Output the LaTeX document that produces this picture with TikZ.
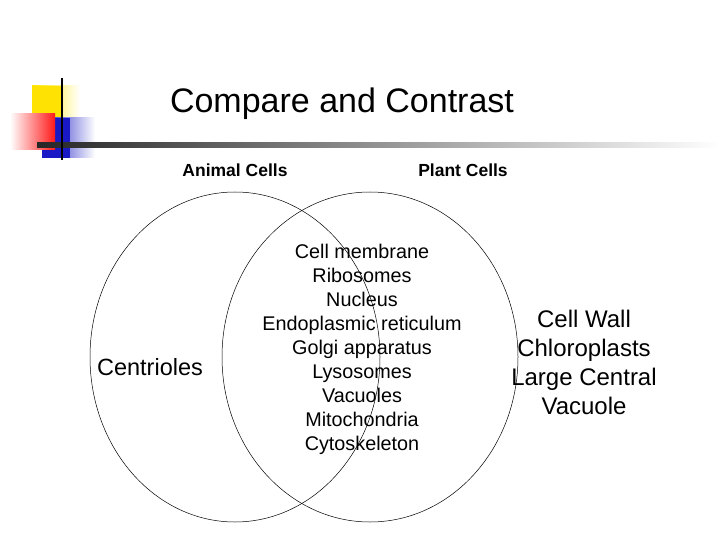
\documentclass[tikz,border=0pt]{standalone}
\usepackage{fontspec}
\setmainfont{Liberation Sans}
\begin{document}
\begin{tikzpicture}[x=1pt,y=-1pt,
  lbl/.style={font=\fontsize{17.5}{20}\selectfont\bfseries},
  mid/.style={align=center,font=\fontsize{19.8}{24}\selectfont},
  rt/.style={align=center,font=\fontsize{24}{29}\selectfont}]
\useasboundingbox (0,0) rectangle (720,540);
\fill[white] (0,0) rectangle (720,540);
% decoration
\shade[left color=yellow!80!orange,right color=white] (32,86) rectangle (80,132);
\fill[yellow!85!orange] (32,86) rectangle (62,132);
\shade[left color=blue!75!black!90,right color=white] (42,118) rectangle (95,158);
\fill[blue!75!black!90] (42,118) rectangle (70,158);
\shade[left color=white,right color=red!90] (10,114) rectangle (55,150);
\shade[left color=black!85,right color=white] (37,143) rectangle (720,148);
\draw[line width=1.5pt] (62,78) -- (62,160);
\node[font=\fontsize{34}{40}\selectfont] (title) at (342,104) {Compare and Contrast};
\node[lbl] (animal) at (235,170) {Animal Cells};
\node[lbl] (plant) at (463,170) {Plant Cells};
\draw[line width=0.5pt] (235,357) ellipse [x radius=145,y radius=165];
\draw[line width=0.5pt] (370,357) ellipse [x radius=148,y radius=165];
\node[font=\fontsize{23.5}{28}\selectfont] (cen) at (150,367) {Centrioles};
\node[mid] (common) at (362,349) {Cell membrane\\Ribosomes\\Nucleus\\Endoplasmic reticulum\\Golgi apparatus\\Lysosomes\\Vacuoles\\Mitochondria\\Cytoskeleton};
\node[rt] (pl) at (584,362) {Cell Wall\\Chloroplasts\\Large Central\\Vacuole};
\end{tikzpicture}
\end{document}
